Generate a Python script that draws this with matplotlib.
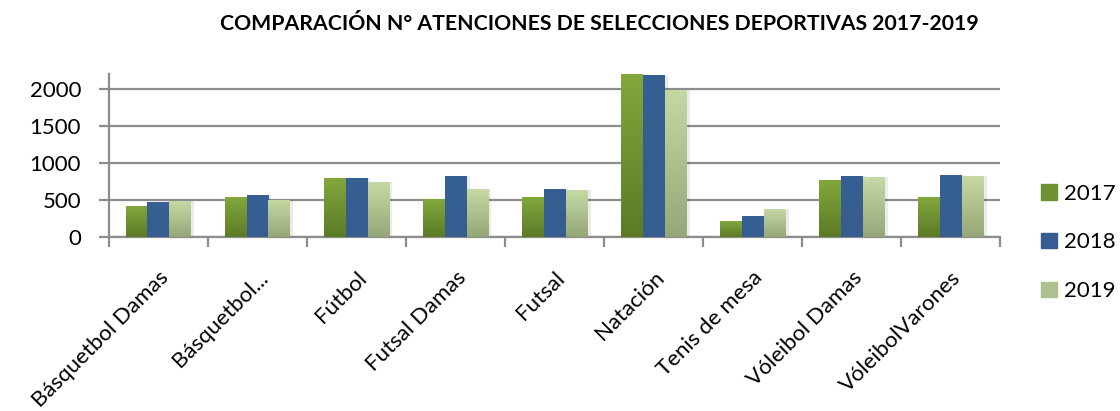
import matplotlib.pyplot as plt
import matplotlib.colors as mcolors
from matplotlib.patches import Patch
import numpy as np

plt.rcParams['font.family'] = ['Lato', 'DejaVu Sans']

# Datos
categorias = ['Básquetbol Damas', 'Básquetbol...', 'Fútbol', 'Futsal Damas', 'Futsal',
              'Natación', 'Tenis de mesa', 'Vóleibol Damas', 'VóleibolVarones']
anios = ['2017', '2018', '2019']
v2017 = [415, 535, 790, 510, 535, 2200, 210, 765, 535]
v2018 = [475, 560, 795, 820, 650, 2180, 280, 820, 830]
v2019 = [480, 500, 740, 645, 630, 1985, 375, 805, 820]

# Colores (arriba, abajo) para el degradado
colores = [('#82a83c', '#5b7a27'), ('#365f93', '#355d8f'), ('#c6d9a4', '#95a777')]

fig = plt.figure(figsize=(11.2, 4.11), dpi=100)
ax = fig.add_axes([0.0973, 0.4234, 0.7957, 0.3966])

x = np.arange(len(categorias))
ancho = 0.222
series = [v2017, v2018, v2019]

for i, (vals, (c_top, c_bot)) in enumerate(zip(series, colores)):
    barras = ax.bar(x + (i - 1) * ancho, vals, ancho, color=c_top, zorder=3, linewidth=0)
    cmap = mcolors.LinearSegmentedColormap.from_list('g%d' % i, [c_bot, c_top])
    grad = np.linspace(0, 1, 256).reshape(-1, 1)
    for b in barras:
        x0, y0 = b.get_x(), b.get_y()
        w, h = b.get_width(), b.get_height()
        # sombra suave
        ax.bar(x0 + w / 2 + 0.03, h, w, bottom=0, color='#000000', alpha=0.08,
               zorder=2, linewidth=0)
        im = ax.imshow(grad, extent=[x0, x0 + w, y0, y0 + h], origin='lower',
                       cmap=cmap, aspect='auto', zorder=4)
        im.set_clip_path(b)

ax.set_xlim(-0.5, len(categorias) - 0.5)
ax.set_ylim(0, 2200)
ax.set_yticks([0, 500, 1000, 1500, 2000])
ax.yaxis.grid(True, color='#8c8c8c', linewidth=1.6, zorder=1)
ax.set_axisbelow(True)

# ticks de categorías en los bordes
ax.set_xticks(np.arange(len(categorias) + 1) - 0.5, minor=False)
ax.set_xticklabels([])
ax.set_xticks(x, minor=True)
ax.set_xticklabels(categorias, minor=True, rotation=45, ha='right', va='top',
                   rotation_mode='anchor', fontsize=16)
ax.tick_params(axis='x', which='minor', length=0, pad=22)
ax.tick_params(axis='x', which='major', length=7, width=1.6, color='#8c8c8c')
ax.tick_params(axis='y', length=7, width=1.6, color='#8c8c8c', labelsize=16, pad=13)

for s in ['top', 'right']:
    ax.spines[s].set_visible(False)
for s in ['left', 'bottom']:
    ax.spines[s].set_color('#8c8c8c')
    ax.spines[s].set_linewidth(1.6)

fig.suptitle('COMPARACIÓN N° ATENCIONES DE SELECCIONES DEPORTIVAS 2017-2019',
             x=0.535, y=0.967, fontsize=15.3, fontweight='bold')

handles = [Patch(color=c[1] if i == 1 else mcolors.to_hex(
    np.mean([mcolors.to_rgb(c[0]), mcolors.to_rgb(c[1])], axis=0))) for i, c in enumerate(colores)]
fig.legend(handles, anios, loc='center left', bbox_to_anchor=(0.912, 0.41),
           frameon=False, fontsize=16, handlelength=0.7, handleheight=0.7,
           handletextpad=0.3, labelspacing=1.3)

fig.savefig('out.png', dpi=100)
